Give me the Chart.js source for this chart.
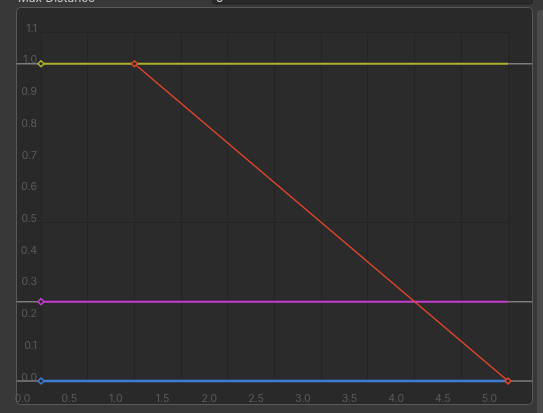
<!DOCTYPE html>
<html>
<head>
<meta charset="utf-8">
<script src="https://cdn.jsdelivr.net/npm/chart.js@4/dist/chart.umd.min.js"></script>
<style>
html,body{margin:0;padding:0;background:#383838;overflow:hidden;}
canvas{display:block;}
</style>
</head>
<body>
<canvas id="c" width="543" height="413"></canvas>
<script>
// ---- data ----
const xTicks = [0, 0.5, 1, 1.5, 2, 2.5, 3, 3.5, 4, 4.5, 5];
const yTicks = [0, 0.1, 0.2, 0.3, 0.4, 0.5, 0.6, 0.7, 0.8, 0.9, 1.0, 1.1];
const volumeX = [1, 5];          // red curve keys (distance)
const volumeY = [1, 0];
const spreadX = [0, 5];          // yellow curve (single key at 0, flat)
const spreadY = [1, 1];
const spatialX = [0, 5];         // magenta curve
const spatialY = [0.25, 0.25];
const reverbX = [0, 5];          // blue curve
const reverbY = [0, 0];
const extendLeft = -0.26;        // wrap-mode continuation outside the key range
const extendRight = 5.26;

function pts(xs, ys){ return xs.map((x,i)=>({x:x, y:ys[i]})); }
function ext(y){ return [{x:extendLeft,y:y},{x:0,y:y},{x:null,y:null},{x:5,y:y},{x:extendRight,y:y}]; }

const panelPlugin = {
  id:'panel',
  beforeDraw(chart){
    const ctx = chart.ctx, a = chart.chartArea;
    ctx.save();
    ctx.fillStyle = '#383838';
    ctx.fillRect(0,0,chart.width,chart.height);
    // scrollbar strip at right
    ctx.fillStyle = '#4b4b4b';
    ctx.beginPath();
    ctx.roundRect(537,10,8,410,3);
    ctx.fill();
    // label cut at top
    ctx.fillStyle = '#c8c8c8';
    ctx.font = '12px Inter';
    ctx.textBaseline = 'alphabetic';
    ctx.fillText('Max Distance', 18, 1.5);
    // input field cut at top
    ctx.fillStyle = '#2a2a2a';
    ctx.strokeStyle = '#212121';
    ctx.beginPath();
    ctx.roundRect(212.5,-10,320,14,3);
    ctx.fill(); ctx.stroke();
    ctx.fillStyle = '#d2d2d2';
    ctx.fillText('5', 216, 2);
    // curve panel
    ctx.fillStyle = '#292929';
    ctx.strokeStyle = '#595959';
    ctx.lineWidth = 1;
    ctx.beginPath();
    ctx.roundRect(16.5,7.5,516,397,4);
    ctx.fill(); ctx.stroke();
    // grid area
    ctx.fillStyle = '#2b2b2b';
    ctx.fillRect(a.left, a.top, a.right-a.left, a.bottom-a.top);
    ctx.restore();
  }
};

function isMajor(v){ return Math.abs(v*2 - Math.round(v*2)) < 1e-6 || Math.abs(v-1.1) < 1e-6; }

const labelFont = {family:'Inter', size:10.5};
const labelColor = '#5c5c5c';
const keyFill = '#2a2a2a';

new Chart(document.getElementById('c'), {
  type:'line',
  data:{
    datasets:[
      {label:'volume', data:pts(volumeX,volumeY), borderColor:'#e2442c', borderWidth:1.5, clip:false,
       pointStyle:'rectRot', pointRadius:3, pointBorderWidth:1.5, pointBackgroundColor:keyFill, pointBorderColor:'#e2442c', order:0},
      {label:'spread', data:pts(spreadX,spreadY), borderColor:'#b0b031', borderWidth:2, clip:false,
       pointStyle:'rectRot', pointRadius:[3,0], pointBorderWidth:1.5, pointBackgroundColor:keyFill, pointBorderColor:'#b0b031', order:1},
      {label:'spatial', data:pts(spatialX,spatialY), borderColor:'#c63bd3', borderWidth:2, clip:false,
       pointStyle:'rectRot', pointRadius:[3,0], pointBorderWidth:1.5, pointBackgroundColor:keyFill, pointBorderColor:'#c63bd3', order:2},
      {label:'reverb', data:pts(reverbX,reverbY), borderColor:'#3e7bd2', borderWidth:2.5, clip:false,
       pointStyle:'rectRot', pointRadius:[3,0], pointBorderWidth:1.5, pointBackgroundColor:keyFill, pointBorderColor:'#3e7bd2', order:3},
      {label:'ext1', data:ext(spreadY[0]), borderColor:'#7c7c7c', borderWidth:1.5, pointRadius:0, clip:false, spanGaps:false, order:4},
      {label:'ext2', data:ext(spatialY[0]), borderColor:'#7c7c7c', borderWidth:1.5, pointRadius:0, clip:false, spanGaps:false, order:4},
      {label:'ext3', data:ext(reverbY[0]), borderColor:'#7c7c7c', borderWidth:1.5, pointRadius:0, clip:false, spanGaps:false, order:4}
    ]
  },
  options:{
    responsive:false,
    animation:false,
    events:[],
    layout:{padding:{left:0, right:35, top:32, bottom:0}},
    plugins:{legend:{display:false}, tooltip:{enabled:false}},
    scales:{
      x:{
        type:'linear', min:0, max:5,
        afterBuildTicks(s){ s.ticks = xTicks.map(v=>({value:v})); },
        afterFit(s){ s.height = 32; },
        border:{display:false},
        grid:{color:'#242424', lineWidth:1, drawTicks:false},
        ticks:{color:labelColor, font:labelFont, padding:11.5, labelOffset:-18.5, maxRotation:0,
               callback:v=>Number(v).toFixed(1)}
      },
      y:{
        type:'linear', min:0, max:1.1,
        afterBuildTicks(s){ s.ticks = yTicks.map(v=>({value:v})); },
        afterFit(s){ s.width = 41; },
        border:{display:false},
        grid:{color:c=>isMajor(c.tick.value)?'#242424':'rgba(0,0,0,0)', lineWidth:1, drawTicks:false},
        ticks:{color:labelColor, font:labelFont, padding:4, labelOffset:-3.5,
               callback:v=>Number(v).toFixed(1)}
      }
    }
  },
  plugins:[panelPlugin]
});
</script>
</body>
</html>
